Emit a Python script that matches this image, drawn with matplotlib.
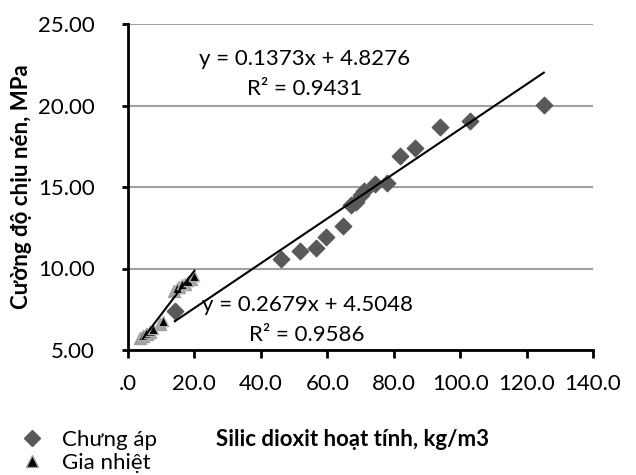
import matplotlib
matplotlib.use("Agg")
import matplotlib.pyplot as plt
import matplotlib.transforms as mtransforms
from matplotlib.lines import Line2D
import numpy as np

plt.rcParams['font.family'] = ['Lato', 'Noto Sans', 'DejaVu Sans']

# Chung ap (autoclave) series
chung_ap_x = [14.1, 46.1, 51.8, 56.5, 59.5, 64.8, 67.0, 68.5, 70.0, 71.0,
              74.5, 77.9, 81.8, 86.5, 93.8, 103.0, 125.2]
chung_ap_y = [7.40, 10.58, 11.07, 11.24, 11.95, 12.63, 13.90, 14.10, 14.50, 14.77,
              15.20, 15.27, 16.90, 17.37, 18.66, 19.07, 20.03]

# Gia nhiet (heat curing) series
gia_nhiet_x = [4.5, 5.5, 6.5, 7.6, 10.6, 14.8, 16.4, 18.2, 20.0]
gia_nhiet_y = [5.95, 6.05, 6.15, 6.30, 6.80, 8.80, 9.05, 9.25, 9.55]

# trendline coefficients as shown on the chart
fit_ca = (0.1373, 4.8276, 0.9431)
fit_gn = (0.2679, 4.5048, 0.9586)

x_ticks = [0, 20, 40, 60, 80, 100, 120, 140]
x_ticklabels = ['.0', '20.0', '40.0', '60.0', '80.0', '100.0', '120.0', '140.0']
y_ticks = [5, 10, 15, 20, 25]
y_ticklabels = ['5.00', '10.00', '15.00', '20.00', '25.00']

W, H = 636, 475
fig = plt.figure(figsize=(W / 100, H / 100), dpi=100)
ax = fig.add_axes([128 / W, 1 - 350 / H, (593 - 128) / W, (350 - 24) / H])

fs = 16
diamond_col = '#595959'

ax.scatter(chung_ap_x, chung_ap_y, marker='D', s=70, color=diamond_col, zorder=3)

# gray shadow behind the triangles
shadow = mtransforms.offset_copy(ax.transData, fig=fig, x=-3, y=-3, units='dots')
ax.scatter(gia_nhiet_x, gia_nhiet_y, marker='^', s=75, color='#a0a0a0',
           transform=shadow, zorder=3)
ax.scatter(gia_nhiet_x, gia_nhiet_y, marker='^', s=55, color='black',
           edgecolor='#b0b0b0', linewidth=1, zorder=4)

xs = np.array([min(chung_ap_x), max(chung_ap_x)])
ax.plot(xs, fit_ca[0] * xs + fit_ca[1], color='black', lw=1.5, zorder=5)
xs = np.array([min(gia_nhiet_x), max(gia_nhiet_x)])
ax.plot(xs, fit_gn[0] * xs + fit_gn[1], color='black', lw=1.5, zorder=5)

ax.set_xlim(0, 140)
ax.set_ylim(5, 25)
ax.set_xticks(x_ticks)
ax.set_xticklabels(x_ticklabels)
ax.set_yticks(y_ticks)
ax.set_yticklabels(y_ticklabels)
ax.tick_params(axis='both', labelsize=fs, width=2, length=6, direction='out')
ax.tick_params(axis='y', length=4, pad=20)
ax.tick_params(axis='x', pad=11)

ax.yaxis.grid(True, color='#a0a0a0', lw=1.5)
ax.set_axisbelow(True)
for s in ['top', 'right']:
    ax.spines[s].set_visible(False)
for s in ['left', 'bottom']:
    ax.spines[s].set_linewidth(2)

ax.set_ylabel('Cường độ chịu nén, MPa', fontsize=fs, fontweight='bold', labelpad=4)

fig.text(352 / W, 1 - 439 / H, 'Silic dioxit hoạt tính, kg/m3', fontsize=fs,
         fontweight='bold', ha='center', va='center')

fig.text(305 / W, 1 - 74 / H,
         'y = %.4fx + %.4f\nR² = %.4f' % fit_ca,
         fontsize=fs, ha='center', va='center', multialignment='center',
         linespacing=1.6)
fig.text(307 / W, 1 - 320 / H,
         'y = %.4fx + %.4f\nR² = %.4f' % fit_gn,
         fontsize=fs, ha='center', va='center', multialignment='center',
         linespacing=1.6)

handles = [
    Line2D([], [], ls='none', marker='D', ms=8, color=diamond_col),
    Line2D([], [], ls='none', marker='^', ms=8, color='black',
           markeredgecolor='#a0a0a0'),
]
fig.legend(handles, ['Chưng áp', 'Gia nhiệt'], loc='upper left',
           bbox_to_anchor=(6 / W, 1 - 421 / H), frameon=False, fontsize=fs,
           handlelength=1.5, handletextpad=0.6, labelspacing=0.12,
           borderaxespad=0)

fig.savefig('out.png', dpi=100)
